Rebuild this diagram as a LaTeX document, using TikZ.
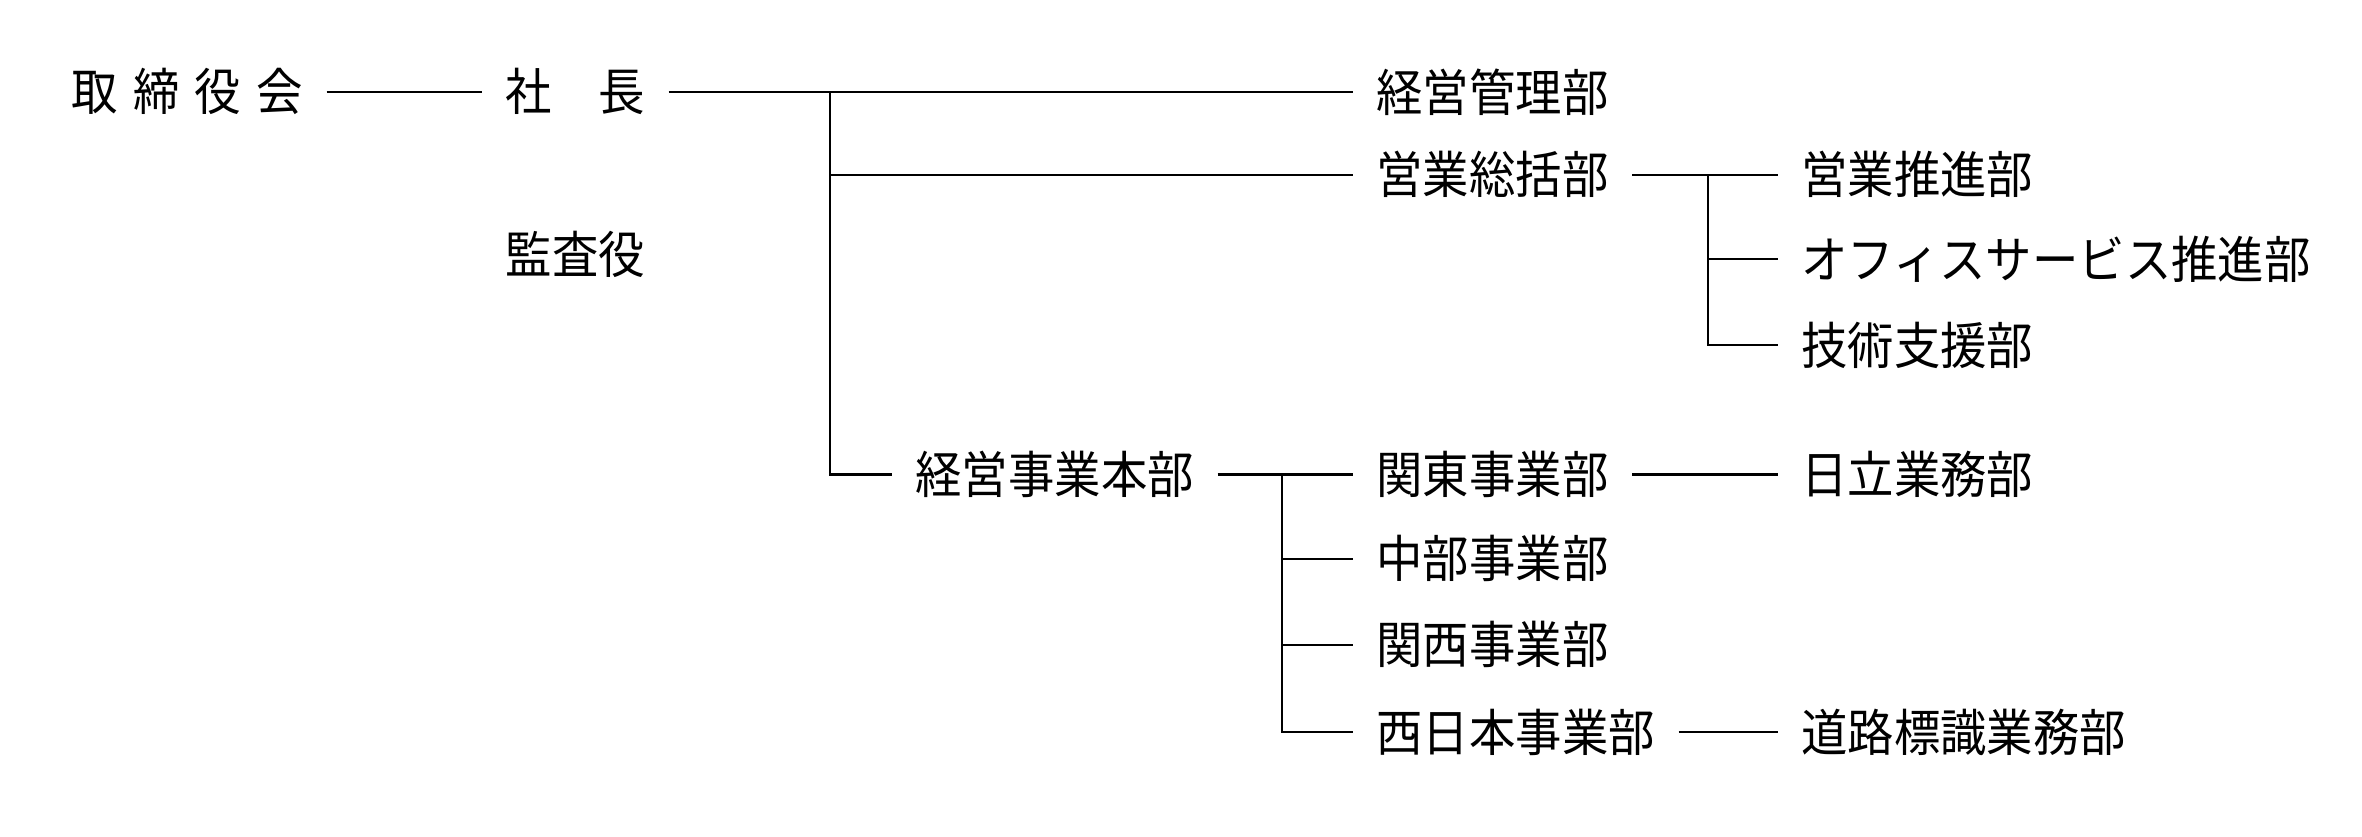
\documentclass[tikz,border=0pt]{standalone}
\usepackage{fontspec}
\setmainfont[FakeStretch=0.92]{Noto Sans CJK JP}
\begin{document}
\begin{tikzpicture}[x = 0.025cm, y = -0.025cm, line width = 1.1pt,
  unit/.style = {anchor = west, inner xsep = 0.375cm, inner ysep = 0pt,
    font = \fontsize{23.8}{28}\selectfont}]
\useasboundingbox (0,0) rectangle (1568,555);
\node [unit] (board) at (32,61) {取\hspace{0.3em}締\hspace{0.3em}役\hspace{0.3em}会};
\node [unit] (pres) at (320,61) {社　長};
\node [unit] (audit) at (320,169) {監査役};
\node [unit] (kanri) at (898,61) {経営管理部};
\node [unit] (eigyo) at (898,116) {営業総括部};
\node [unit] (suishin) at (1180,116) {営業推進部};
\node [unit] (office) at (1180,172) {オフィスサービス推進部};
\node [unit] (gijutsu) at (1180,229) {技術支援部};
\node [unit] (honbu) at (592,315) {経営事業本部};
\node [unit] (kanto) at (898,315) {関東事業部};
\node [unit] (chubu) at (898,371) {中部事業部};
\node [unit] (kansai) at (898,428) {関西事業部};
\node [unit] (nishi) at (898,486) {西日本事業部};
\node [unit] (hitachi) at (1180,315) {日立業務部};
\node [unit] (doro) at (1180,486) {道路標識業務部};
\coordinate (trunk) at (551,61);
\coordinate (salestrunk) at (1134,116);
\coordinate (honbutrunk) at (851,315);
\draw (board) -- (pres);
\draw (pres) -- (kanri);
\draw (trunk) |- (honbu);
\draw (trunk |- eigyo) -- (eigyo);
\draw (eigyo) -- (suishin);
\draw (salestrunk) |- (gijutsu);
\draw (salestrunk |- office) -- (office);
\draw (honbu) -- (kanto);
\draw (honbutrunk) |- (nishi);
\draw (honbutrunk |- chubu) -- (chubu);
\draw (honbutrunk |- kansai) -- (kansai);
\draw (kanto) -- (hitachi);
\draw (nishi) -- (doro);
\end{tikzpicture}
\end{document}
